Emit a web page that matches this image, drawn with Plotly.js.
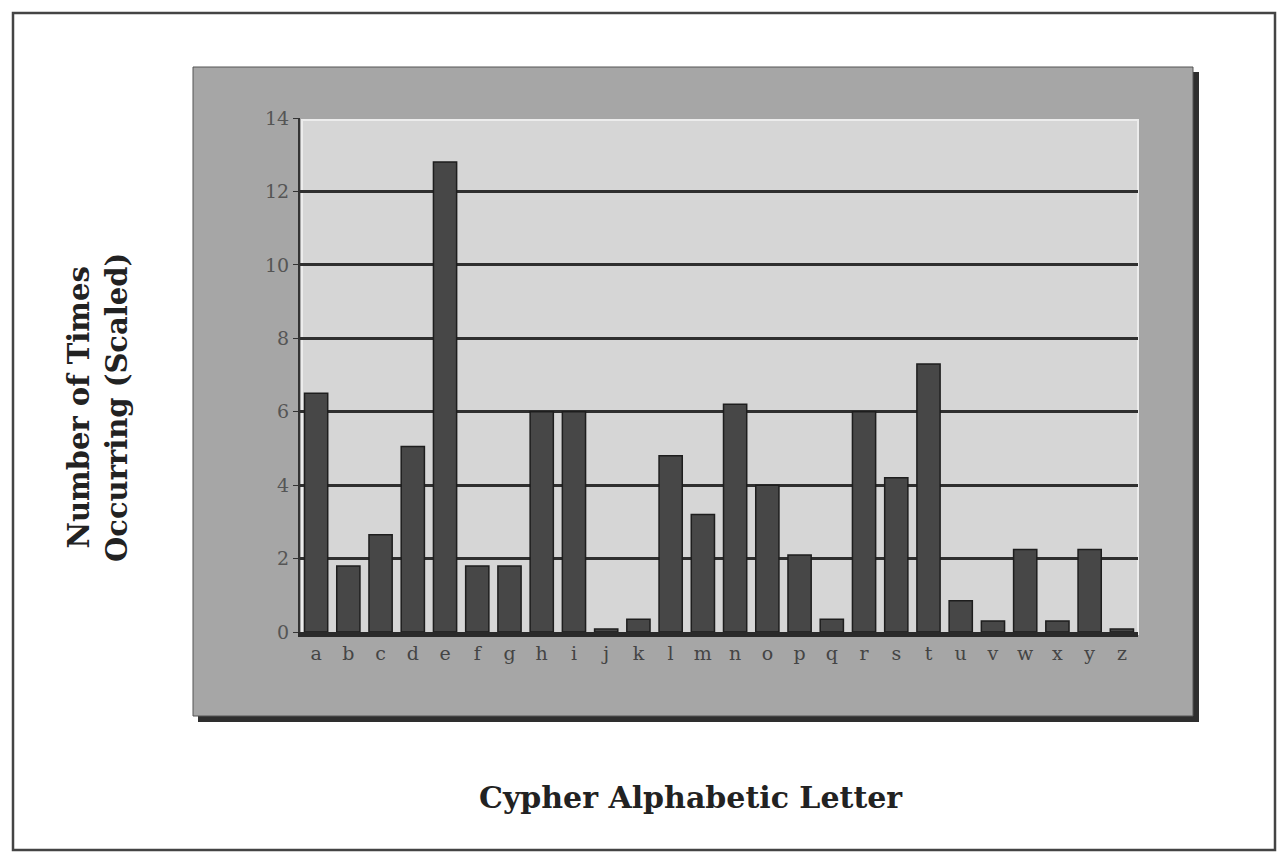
<!DOCTYPE html>
<html>
<head>
<meta charset="utf-8">
<script src="https://cdn.plot.ly/plotly-3.0.1.min.js"></script>
<style>html,body{margin:0;padding:0;background:#fff;}#chart{width:1278px;height:852px;}</style>
</head>
<body>
<div id="chart"></div>
<script>
const letters = ["a","b","c","d","e","f","g","h","i","j","k","l","m","n","o","p","q","r","s","t","u","v","w","x","y","z"];
const counts = [6.5,1.8,2.65,5.05,12.8,1.8,1.8,6.0,6.0,0.08,0.35,4.8,3.2,6.2,4.0,2.1,0.35,6.0,4.2,7.3,0.85,0.3,2.25,0.3,2.25,0.08];
const yTicks = [0,2,4,6,8,10,12,14];

const W = 1278, H = 852;
const px = v => v / W, py = v => 1 - v / H;

const trace = {
  type: 'bar',
  x: letters,
  y: counts,
  marker: {color: '#474747', line: {color: '#1e1e1e', width: 1.5}},
  hoverinfo: 'x+y'
};

const layout = {
  width: W, height: H,
  margin: {l: 0, r: 0, t: 0, b: 0},
  paper_bgcolor: '#ffffff',
  plot_bgcolor: 'rgba(0,0,0,0)',
  showlegend: false,
  bargap: 0.28,
  font: {family: '"DejaVu Serif", "Liberation Serif", serif', color: '#333'},
  xaxis: {
    domain: [px(300), px(1138)],
    tickfont: {size: 19, color: '#444', family: '"DejaVu Serif", serif'},
    showline: true, linecolor: '#2a2a2a', linewidth: 5,
    ticks: '', showgrid: false, fixedrange: true
  },
  yaxis: {
    domain: [py(632), py(118)],
    range: [0, 14],
    tickvals: yTicks,
    ticktext: yTicks.map(String),
    tickfont: {size: 19, color: '#555', family: '"DejaVu Serif", serif'},
    showline: true, linecolor: '#333', linewidth: 2,
    ticks: 'outside', ticklen: 5, tickcolor: '#333',
    showgrid: true, gridcolor: '#2f2f2f', gridwidth: 3,
    zeroline: false, fixedrange: true
  },
  shapes: [
    {type: 'rect', xref: 'paper', yref: 'paper', x0: px(13), x1: px(1275), y0: py(850), y1: py(13),
     line: {color: '#444', width: 2.5}, fillcolor: '#ffffff', layer: 'below'},
    {type: 'rect', xref: 'paper', yref: 'paper', x0: px(198), x1: px(1199), y0: py(722), y1: py(72),
     line: {width: 0}, fillcolor: '#2e2e2e', layer: 'below'},
    {type: 'rect', xref: 'paper', yref: 'paper', x0: px(193), x1: px(1193), y0: py(716), y1: py(67),
     line: {color: '#555', width: 1}, fillcolor: '#a6a6a6', layer: 'below'},
    {type: 'rect', xref: 'paper', yref: 'paper', x0: px(302), x1: px(1138), y0: py(634), y1: py(120),
     line: {color: '#ececec', width: 2}, fillcolor: '#d6d6d6', layer: 'below'}
  ],
  annotations: [
    {xref: 'paper', yref: 'paper', x: px(691), y: py(817), text: '<b>Cypher Alphabetic Letter</b>',
     showarrow: false, font: {size: 30, color: '#222', family: '"DejaVu Serif", serif'}},
    {xref: 'paper', yref: 'paper', x: px(60), y: py(408), text: '<b>Number of Times<br>Occurring (Scaled)</b>',
     showarrow: false, textangle: -90, font: {size: 29, color: '#222', family: '"DejaVu Serif", serif'}}
  ]
};

Plotly.newPlot('chart', [trace], layout, {displayModeBar: false, staticPlot: true});
</script>
</body>
</html>
